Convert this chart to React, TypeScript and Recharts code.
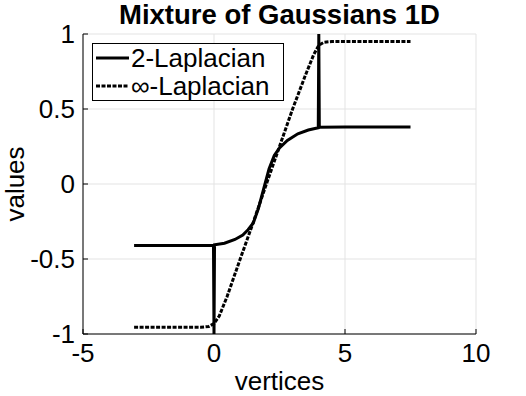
import { LineChart, Line, XAxis, YAxis, CartesianGrid, Legend, Label } from 'recharts';

const xTicks = [-5, 0, 5, 10];
const yTicks = [-1, -0.5, 0, 0.5, 1];

// 2-Laplacian (solid): spikes at the two labelled vertices
const lap2X = [-3.05, -1, -0.02, 0, 0.02, 0.4, 0.8, 1.1, 1.3, 1.5, 1.7, 1.9, 2.1, 2.3, 2.5, 2.8, 3.2, 3.6, 3.98, 4, 4.02, 5, 7.5];
const lap2Y = [-0.41, -0.41, -0.41, -1, -0.405, -0.395, -0.37, -0.34, -0.305, -0.26, -0.16, -0.03, 0.1, 0.19, 0.24, 0.29, 0.335, 0.36, 0.375, 1, 0.378, 0.38, 0.38];

// inf-Laplacian (dotted)
const lapInfX = [-3.05, -0.5, -0.2, 0, 0.2, 0.5, 1, 1.5, 2, 2.5, 3, 3.5, 3.8, 4, 4.2, 4.5, 7.5];
const lapInfY = [-0.955, -0.955, -0.95, -0.93, -0.88, -0.75, -0.5, -0.255, 0, 0.25, 0.5, 0.73, 0.86, 0.925, 0.945, 0.95, 0.95];

const lap2 = lap2X.map((x, i) => ({ x, y: lap2Y[i] }));
const lapInf = lapInfX.map((x, i) => ({ x, y: lapInfY[i] }));

const FONT = '"Liberation Sans", Arial, Helvetica, sans-serif';
const FS = 26;
const DOTS = '4 1.5';

function XTick(props: any) {
  const { x, y, payload } = props;
  const axisY = y - 10;
  return (
    <g>
      <line x1={x} x2={x} y1={axisY} y2={axisY - 5} stroke="#000" strokeWidth={1} />
      <text x={x} y={y} dy="0.71em" textAnchor="middle" fontSize={FS} fontFamily={FONT} fill="#000">
        {payload.value}
      </text>
    </g>
  );
}

function YTick(props: any) {
  const { x, y, payload } = props;
  const axisX = x + 8;
  return (
    <g>
      <line x1={axisX} x2={axisX + 5} y1={y} y2={y} stroke="#000" strokeWidth={1} />
      <text x={x} y={y} dy="0.36em" textAnchor="end" fontSize={FS} fontFamily={FONT} fill="#000">
        {payload.value}
      </text>
    </g>
  );
}

function LegendBox() {
  const row = (name: string, dash?: string) => (
    <div style={{ display: 'flex', alignItems: 'center', height: 28 }}>
      <svg width={36} height={10} style={{ marginLeft: 2 }}>
        <line x1={1} x2={34} y1={5} y2={5} stroke="#000" strokeWidth={3} strokeDasharray={dash} />
      </svg>
      <span style={{ fontSize: FS, fontFamily: FONT, lineHeight: '28px', whiteSpace: 'nowrap' }}>{name}</span>
    </div>
  );
  return (
    <div style={{ border: '1px solid #000', background: '#fff', width: 190 }}>
      {row('2-Laplacian')}
      {row('\u221E-Laplacian', DOTS)}
    </div>
  );
}

export default function App() {
  return (
    <div style={{ position: 'absolute', left: 0, top: 0, width: 526, height: 396, background: '#fff' }}>
      <div
        style={{
          position: 'absolute',
          left: 83,
          width: 393,
          top: 0,
          textAlign: 'center',
          fontFamily: FONT,
          fontWeight: 'bold',
          fontSize: 27.5,
          lineHeight: '30px',
          color: '#000',
        }}
      >
        Mixture of Gaussians 1D
      </div>
      <LineChart width={526} height={396} margin={{ top: 34, right: 50, bottom: 0, left: 0 }}>
        <CartesianGrid stroke="#e3e3e3" strokeWidth={1} />
        <XAxis
          type="number"
          dataKey="x"
          domain={[-5, 10]}
          ticks={xTicks}
          allowDataOverflow
          axisLine={{ stroke: '#000', strokeWidth: 1 }}
          tickLine={false}
          tickSize={0}
          tickMargin={10}
          tick={<XTick />}
          height={62}
        >
          <Label
            content={(p: any) => {
              const vb = p.viewBox;
              return (
                <text x={vb.x + vb.width / 2} y={390} textAnchor="middle" fontSize={FS} fontFamily={FONT} fill="#000">
                  vertices
                </text>
              );
            }}
          />
        </XAxis>
        <YAxis
          type="number"
          dataKey="y"
          domain={[-1, 1]}
          ticks={yTicks}
          allowDataOverflow
          width={83}
          axisLine={{ stroke: '#000', strokeWidth: 1 }}
          tickLine={false}
          tickSize={0}
          tickMargin={8}
          tick={<YTick />}
        >
          <Label
            content={(p: any) => {
              const vb = p.viewBox;
              const cy = vb.y + vb.height / 2;
              return (
                <text
                  x={24}
                  y={cy}
                  transform={`rotate(-90 24 ${cy})`}
                  textAnchor="middle"
                  fontSize={FS}
                  fontFamily={FONT}
                  fill="#000"
                >
                  values
                </text>
              );
            }}
          />
        </YAxis>
        <Legend
          layout="vertical"
          align="center"
          verticalAlign="middle"
          content={() => <LegendBox />}
          wrapperStyle={{ position: 'absolute', left: 92, top: 43, width: 'auto', height: 'auto' }}
        />
        <Line
          data={lap2}
          dataKey="y"
          name="2-Laplacian"
          type="linear"
          stroke="#000"
          strokeWidth={3}
          dot={false}
          activeDot={false}
          isAnimationActive={false}
        />
        <Line
          data={lapInf}
          dataKey="y"
          name="∞-Laplacian"
          type="linear"
          stroke="#000"
          strokeWidth={3}
          strokeDasharray={DOTS}
          dot={false}
          activeDot={false}
          isAnimationActive={false}
        />
      </LineChart>
    </div>
  );
}
